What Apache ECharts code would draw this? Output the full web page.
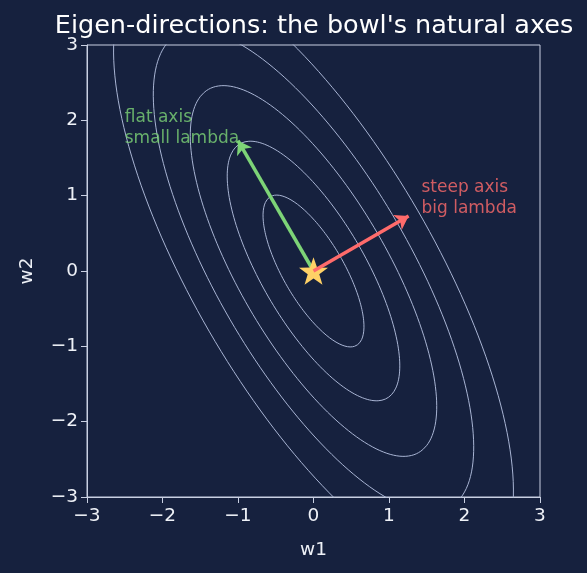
<!DOCTYPE html>
<html>
<head>
<meta charset="utf-8">
<script src="https://cdn.jsdelivr.net/npm/echarts@6/dist/echarts.min.js"></script>
<style>
    html, body {margin: 0; padding: 0; background: #16213e;}
    #chart {width: 587px; height: 573px;}
</style>
</head>
<body>
<div id="chart"></div>
<script>
var lambdas = [8, 1];            // steep, flat eigenvalues
var eigAngle = 30;               // degrees, steep direction
var levels = [1.3, 3.8, 7.75, 13.1, 20.4];
var steepTip = [1.26, 0.73];
var flatTip = [-1.0, 1.73];
var minimum = [0, 0];

var th = eigAngle * Math.PI / 180;
var v1 = [Math.cos(th), Math.sin(th)];
var v2 = [-Math.sin(th), Math.cos(th)];

function ellipse(L) {
    var pts = [];
    var r1 = Math.sqrt(L / lambdas[0]), r2 = Math.sqrt(L / lambdas[1]);
    for (var d = 0; d <= 360; d += 2) {
        var t = d * Math.PI / 180;
        var a = r1 * Math.cos(t), b = r2 * Math.sin(t);
        pts.push([a * v1[0] + b * v2[0], a * v1[1] + b * v2[1]]);
    }
    return pts;
}

function fmt(v) {
    return v < 0 ? '\u2212' + (-v) : '' + v;
}

var txt = '#eef1f7';
var axisCol = '#c9d0e2';

var series = [];
levels.forEach(function (L) {
    series.push({
        type: 'line',
        data: ellipse(L),
        showSymbol: false,
        symbol: 'none',
        clip: true,
        lineStyle: {color: '#a9b5d4', width: 1, opacity: 1},
        silent: true,
        z: 1
    });
});

series.push({
    type: 'lines',
    coordinateSystem: 'cartesian2d',
    symbol: ['none', 'arrow'],
    symbolSize: 13,
    lineStyle: {color: '#7dd477', width: 3.5, opacity: 1},
    data: [{coords: [minimum, flatTip]}],
    z: 3
});

series.push({
    type: 'scatter',
    data: [minimum],
    symbol: 'path://M0,-10 L2.35,-3.24 L9.51,-3.09 L3.8,1.24 L5.88,8.09 L0,4 L-5.88,8.09 L-3.8,1.24 L-9.51,-3.09 L-2.35,-3.24 Z',
    symbolKeepAspect: true,
    symbolSize: 29,
    itemStyle: {color: '#ffd166', opacity: 1},
    z: 4
});

series.push({
    type: 'lines',
    coordinateSystem: 'cartesian2d',
    symbol: ['none', 'arrow'],
    symbolSize: 13,
    lineStyle: {color: '#ff6b6b', width: 3.5, opacity: 1},
    data: [{coords: [minimum, steepTip]}],
    z: 5
});

series.push({
    type: 'scatter',
    symbolSize: 0,
    data: [
        {value: [-2.5, 1.9], label: {formatter: 'flat axis\nsmall lambda', color: '#7dd477'}},
        {value: [1.43, 0.97], label: {formatter: 'steep axis\nbig lambda', color: '#ff6b6b'}}
    ],
    label: {
        show: true,
        position: 'right',
        distance: 0,
        align: 'left',
        verticalAlign: 'middle',
        fontFamily: 'DejaVu Sans',
        fontSize: 17,
        lineHeight: 21
    },
    silent: true,
    z: 6
});

var myChart = echarts.init(document.getElementById('chart'));
myChart.setOption({
    backgroundColor: '#16213e',
    animation: false,
    title: {
        text: "Eigen-directions: the bowl's natural axes",
        left: 309,
        top: 8,
        textAlign: 'center',
        textStyle: {color: '#ffffff', fontFamily: 'DejaVu Sans', fontWeight: 'normal', fontSize: 25.5}
    },
    grid: {
        left: 87, right: 47, top: 45, bottom: 76,
        show: true,
        borderColor: axisCol,
        borderWidth: 1
    },
    xAxis: {
        type: 'value',
        min: -3, max: 3, interval: 1,
        name: 'w1',
        nameLocation: 'middle',
        nameGap: 44,
        nameTextStyle: {color: txt, fontFamily: 'DejaVu Sans', fontSize: 18.5},
        axisLine: {show: true, onZero: false, lineStyle: {color: axisCol}},
        axisTick: {show: true, length: 6, lineStyle: {color: axisCol}},
        axisLabel: {color: txt, fontFamily: 'DejaVu Sans', fontSize: 18.5, margin: 10, formatter: fmt},
        splitLine: {show: false}
    },
    yAxis: {
        type: 'value',
        min: -3, max: 3, interval: 1,
        name: 'w2',
        nameLocation: 'middle',
        nameGap: 50,
        nameTextStyle: {color: txt, fontFamily: 'DejaVu Sans', fontSize: 18.5},
        axisLine: {show: true, onZero: false, lineStyle: {color: axisCol}},
        axisTick: {show: true, length: 6, lineStyle: {color: axisCol}},
        axisLabel: {color: txt, fontFamily: 'DejaVu Sans', fontSize: 18.5, margin: 9, formatter: fmt},
        splitLine: {show: false}
    },
    series: series
});
</script>
</body>
</html>
